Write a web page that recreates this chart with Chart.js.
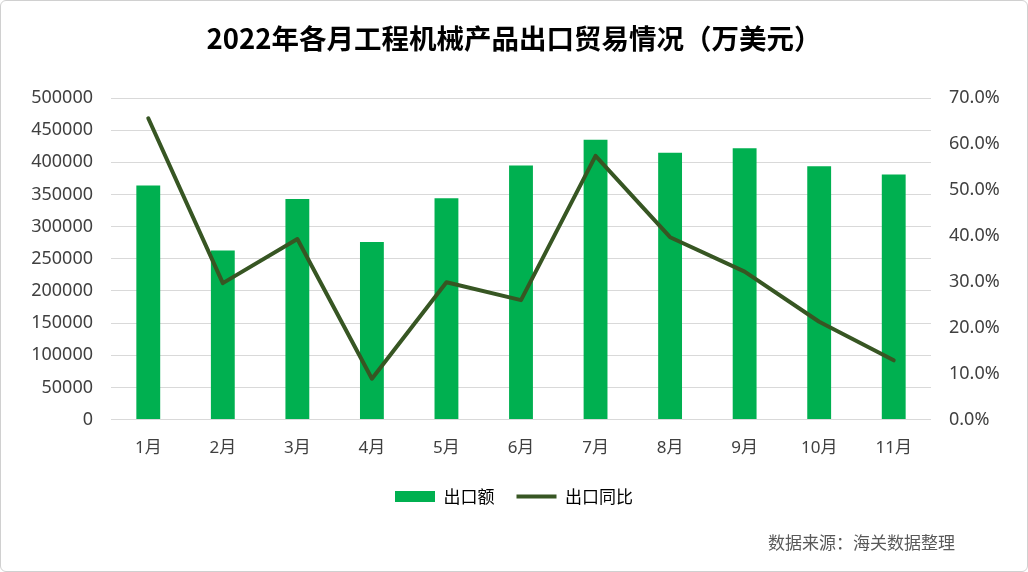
<!DOCTYPE html>
<html>
<head>
<meta charset="utf-8">
<script src="https://cdn.jsdelivr.net/npm/chart.js@4"></script>
<style>
  html, body { margin: 0; padding: 0; background: #fff; }
  #wrap {
    position: relative;
    width: 1028px; height: 572px;
    box-sizing: border-box;
    border: 1px solid #d0d0d0;
    border-radius: 6px;
    overflow: hidden;
  }
  #source {
    position: absolute;
    left: 767px; top: 528px;
    font: 17px "Noto Sans CJK SC", sans-serif;
    color: #595959;
  }
</style>
</head>
<body>
<div id="wrap">
  <canvas id="exportChart" width="1026" height="570"></canvas>
  <div id="source">数据来源：海关数据整理</div>
</div>
<script>
// 月份
const months = ["1月", "2月", "3月", "4月", "5月", "6月", "7月", "8月", "9月", "10月", "11月"];
// 出口额（万美元）
const exportValue = [364000, 263000, 343000, 276000, 344000, 395000, 435000, 415000, 422000, 394000, 381000];
// 出口同比（%）
const yoyGrowth = [65.6, 29.7, 39.3, 8.9, 29.9, 26.0, 57.4, 39.7, 32.2, 21.3, 12.9];

const barColor = "#00b050";
const lineColor = "#375623";
const fontFamily = '"Noto Sans", "Noto Sans CJK SC", sans-serif';

const ctx = document.getElementById("exportChart").getContext("2d");

let chart = new Chart(ctx, {
  type: "bar",
  data: {
    labels: months,
    datasets: [
      {
        type: "line",
        label: "出口同比",
        data: yoyGrowth,
        yAxisID: "yPct",
        borderColor: lineColor,
        backgroundColor: lineColor,
        borderWidth: 4,
        pointRadius: 0,
        tension: 0,
        borderJoinStyle: "round",
        borderCapStyle: "round",
        order: 0
      },
      {
        label: "出口额",
        data: exportValue,
        yAxisID: "y",
        backgroundColor: barColor,
        borderWidth: 0,
        categoryPercentage: 1,
        barPercentage: 0.32,
        order: 1
      }
    ]
  },
  options: {
    responsive: false,
    animation: false,
    layout: { padding: { left: 0, right: 0, top: 0, bottom: 56 } },
    plugins: {
      title: {
        display: true,
        text: "2022年各月工程机械产品出口贸易情况（万美元）",
        color: "#000",
        font: { family: '"Noto Sans CJK SC", sans-serif', size: 27.5, weight: "bold" },
        padding: { top: 21, bottom: 43 }
      },
      legend: {
        position: "bottom",
        labels: {
          color: "#262626",
          font: { family: '"Noto Sans CJK SC", sans-serif', size: 17 },
          usePointStyle: true,
          pointStyleWidth: 40,
          boxHeight: 11,
          padding: 22,
          generateLabels: () => [
            { text: "出口额", pointStyle: "rect", fillStyle: barColor, strokeStyle: barColor, lineWidth: 0, datasetIndex: 1 },
            { text: "出口同比", pointStyle: "line", fillStyle: lineColor, strokeStyle: lineColor, lineWidth: 4, datasetIndex: 0 }
          ]
        }
      },
      tooltip: { enabled: false }
    },
    scales: {
      x: {
        grid: { display: false, drawTicks: false },
        border: { display: false },
        ticks: {
          color: "#404040",
          font: { family: fontFamily, size: 17 },
          padding: 18
        },
        afterFit: (scale) => { scale.height -= 10; }
      },
      y: {
        position: "left",
        min: 0,
        max: 500000,
        ticks: {
          stepSize: 50000,
          color: "#404040",
          font: { family: fontFamily, size: 18 },
          padding: 18,
          callback: (v) => String(v)
        },
        grid: { color: "#d9d9d9", drawTicks: false },
        border: { display: false },
        afterFit: (scale) => { scale.width = 110; }
      },
      yPct: {
        position: "right",
        min: 0,
        max: 70,
        ticks: {
          stepSize: 10,
          color: "#404040",
          font: { family: fontFamily, size: 18 },
          padding: 18,
          callback: (v) => v.toFixed(1) + "%"
        },
        grid: { display: false, drawTicks: false },
        border: { display: false },
        afterFit: (scale) => { scale.width = 96; }
      }
    }
  }
});
</script>
</body>
</html>
